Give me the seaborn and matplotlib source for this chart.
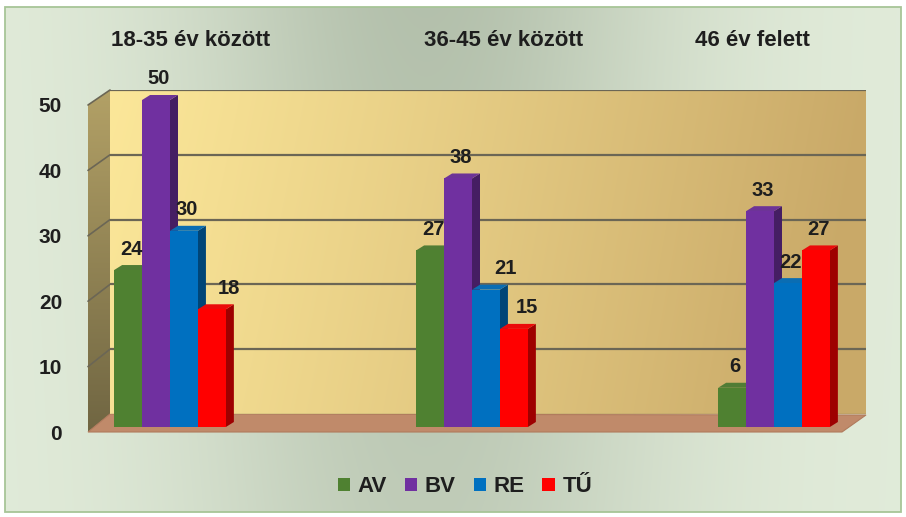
import numpy as np
import pandas as pd
import matplotlib
matplotlib.use("Agg")
import matplotlib.pyplot as plt
import matplotlib.colors as mcolors
import seaborn as sns
from matplotlib.patches import Polygon, Rectangle
from matplotlib.transforms import IdentityTransform, ScaledTranslation

# ---------------- data ----------------
categories = ["18-35 év között", "36-45 év között", "46 év felett"]
series = ["AV", "BV", "RE", "TŰ"]
av = [24, 27, 6]
bv = [50, 38, 33]
re_vals = [30, 21, 22]
tu = [18, 15, 27]
yticks = [0, 10, 20, 30, 40, 50]

values = {"AV": av, "BV": bv, "RE": re_vals, "TŰ": tu}
df = pd.DataFrame(
    [(c, s, values[s][i]) for s in series for i, c in enumerate(categories)],
    columns=["category", "series", "value"],
)

palette = {"AV": "#4f8131", "BV": "#7030a0", "RE": "#0070c0", "TŰ": "#ff0000"}

# ---------------- layout (pixels) ----------------
W, H = 906, 517
sns.set_theme(style="white")
plt.rcParams["font.family"] = ["Liberation Sans", "DejaVu Sans"]
plt.rcParams["font.weight"] = "bold"
TXT = "#1e1e1e"
FS_CAT = 16
FS_TICK = 15
FS_VAL = 14.5
FS_LEG = 16

fig = plt.figure(figsize=(W / 100, H / 100), dpi=100)
fig.patch.set_facecolor("white")

def fig_rect(left, top, right, bottom):
    return [left / W, (H - bottom) / H, (right - left) / W, (bottom - top) / H]

# background axes in pixel coordinates
bg = fig.add_axes([0, 0, 1, 1], zorder=0)
bg.set_xlim(0, W)
bg.set_ylim(H, 0)
bg.axis("off")

ny, nx = 200, 400
u = np.linspace(0, 1, nx)[None, :]
v = np.linspace(0, 1, ny)[:, None]
w = np.exp(-((u - 0.47) / 0.27) ** 2) * (1 - 0.25 * v)
light = np.array([0.885, 0.925, 0.855])
dark = np.array([0.705, 0.755, 0.675])
img = light[None, None, :] * (1 - w[..., None]) + dark[None, None, :] * w[..., None]
bg.imshow(img, extent=(5, 901, 512, 7), aspect="auto", interpolation="bilinear", zorder=0)
bg.add_patch(Rectangle((5, 7), 896, 505, fill=False, ec="#a7c597", lw=1.3, zorder=1))

# side wall
side_pts = [(88, 432), (88, 105), (110, 90), (110, 414)]
sv = np.linspace(0, 1, 100)[:, None] * np.ones((1, 10))
c_top = np.array([0.70, 0.63, 0.40])
c_bot = np.array([0.44, 0.40, 0.26])
simg = c_top[None, None, :] * (1 - sv[..., None]) + c_bot[None, None, :] * sv[..., None]
sim = bg.imshow(simg, extent=(88, 110, 432, 90), aspect="auto", zorder=2)
side_poly = Polygon(side_pts, closed=True, fc="none", ec="none")
bg.add_patch(side_poly)
sim.set_clip_path(side_poly)

# floor
floor_pts = [(88, 432), (842, 432), (866, 415), (110, 414)]
bg.add_patch(Polygon(floor_pts, closed=True, fc="#c08a6a", ec="#b07a5c", lw=0.8, zorder=3))

# back wall
wall = fig.add_axes(fig_rect(110, 90, 866, 414), zorder=1)
wall.set_xlim(0, 1)
wall.set_ylim(0, 50)
gx = np.linspace(0, 1, 300)[None, :]
gy = np.linspace(0, 1, 100)[:, None]
wl = np.array([0.985, 0.905, 0.60])
wr = np.array([0.79, 0.665, 0.41])
t = np.clip(gx ** 1.1 + 0.08 * gy, 0, 1)
wimg = wl[None, None, :] * (1 - t[..., None]) + wr[None, None, :] * t[..., None]
wall.imshow(wimg, extent=(0, 1, 0, 50), aspect="auto", interpolation="bilinear")
for yv in yticks[1:]:
    wall.axhline(yv, color="#6b6655", lw=1.6)
wall.axhline(0, color="#9a8a60", lw=1.0)
wall.set_xticks([])
wall.set_yticks([])
for sp in wall.spines.values():
    sp.set_visible(False)

# diagonal grid lines on the side wall
for yv in yticks[1:]:
    yf = 432 - yv * (432 - 105) / 50
    yb = 414 - yv * (414 - 90) / 50
    bg.plot([88, 110], [yf, yb], color="#6b6655", lw=1.2, zorder=4)

# ---------------- main axes (bar plane) ----------------
ax = fig.add_axes(fig_rect(94, 100, 848, 427), zorder=2)
ax.patch.set_alpha(0)
sns.barplot(data=df, x="category", y="value", hue="series", order=categories,
            hue_order=series, palette=palette, width=0.37, saturation=1,
            ax=ax, edgecolor="none", linewidth=0)
ax.set_ylim(0, 50)
ax.set_xlim(-(170 - 94) / 302, (848 - 170) / 302)
for sp in ax.spines.values():
    sp.set_visible(False)
ax.set_xlabel("")
ax.set_ylabel("")

# 3-D faces for every bar
dx, dy = 8, 5
for k, (cont, s) in enumerate(zip(ax.containers, series)):
    base = np.array(mcolors.to_rgb(palette[s]))
    side_c = base * 0.62
    top_c = np.clip(base * 0.88 + 0.04, 0, 1)
    for i, bar in enumerate(cont):
        bar.set_zorder(3 + 2 * k)
        (x0, y0), (x1, y1) = ax.transData.transform(
            [(bar.get_x(), 0), (bar.get_x() + bar.get_width(), bar.get_height())])
        sidep = Polygon([(x1, y0), (x1 + dx, y0 + dy), (x1 + dx, y1 + dy), (x1, y1)],
                        closed=True, fc=side_c, ec="none", transform=IdentityTransform(),
                        zorder=2 + 2 * k, clip_on=False)
        topp = Polygon([(x0, y1), (x1, y1), (x1 + dx, y1 + dy), (x0 + dx, y1 + dy)],
                       closed=True, fc=top_c, ec="none", transform=IdentityTransform(),
                       zorder=2 + 2 * k, clip_on=False)
        ax.add_patch(sidep)
        ax.add_patch(topp)

# value labels
nudge = {("TŰ", 0): 14, ("RE", 1): 16, ("TŰ", 1): 10}
for cont, s in zip(ax.containers, series):
    for i, bar in enumerate(cont):
        val = values[s][i]
        ax.annotate(f"{val}", (bar.get_x() + bar.get_width() / 2, bar.get_height()),
                    xytext=(3 + nudge.get((s, i), 0), 21), textcoords="offset pixels",
                    ha="center", va="center", fontsize=FS_VAL, fontweight="bold",
                    color=TXT, zorder=20, annotation_clip=False)

# y ticks
ax.set_yticks(yticks)
ax.set_yticklabels([str(y) for y in yticks])
ax.tick_params(axis="y", length=0, pad=23)
for lbl in ax.get_yticklabels():
    lbl.set_fontsize(FS_TICK)
    lbl.set_fontweight("bold")
    lbl.set_color(TXT)
    lbl.set_transform(lbl.get_transform() + ScaledTranslation(0, -5 / 100, fig.dpi_scale_trans))

# category labels on top
ax.xaxis.tick_top()
ax.set_xticks(range(len(categories)))
ax.set_xticklabels(categories)
ax.tick_params(axis="x", length=0, pad=35)
for lbl, sh in zip(ax.get_xticklabels(), [21, 32, -22]):
    lbl.set_fontsize(FS_CAT)
    lbl.set_fontweight("bold")
    lbl.set_color(TXT)
    lbl.set_transform(lbl.get_transform() + ScaledTranslation(sh / 100, 0, fig.dpi_scale_trans))

# legend
handles = [Rectangle((0, 0), 1, 1, fc=palette[s], ec="none") for s in series]
leg = fig.legend(handles, series, loc="center", bbox_to_anchor=(465 / W, 1 - 487 / H),
                 ncol=4, frameon=False, handlelength=0.55, handleheight=0.55,
                 handletextpad=0.35, columnspacing=0.8,
                 prop={"size": FS_LEG, "weight": "bold"})
for txt in leg.get_texts():
    txt.set_color(TXT)
if ax.get_legend() is not None:
    ax.get_legend().remove()

fig.savefig("out.png", dpi=100)
